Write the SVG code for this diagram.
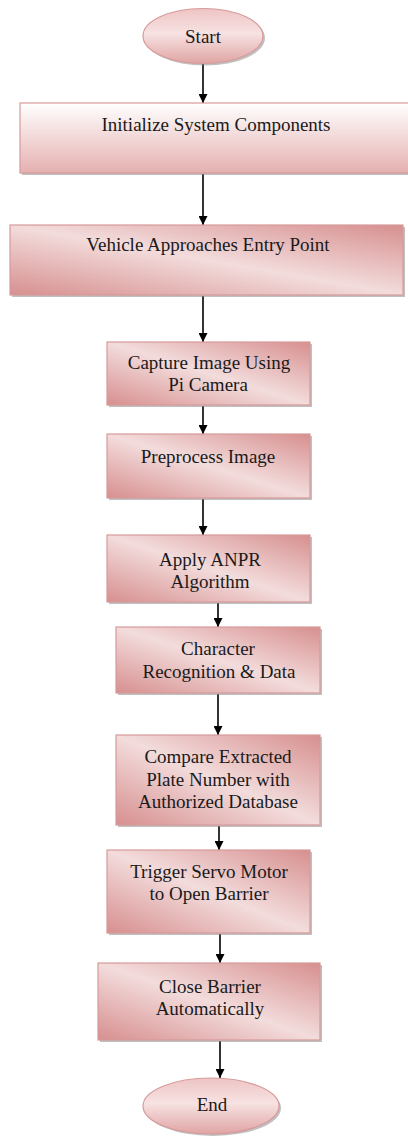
<svg xmlns="http://www.w3.org/2000/svg" width="408" height="1137" viewBox="0 0 408 1137">
<style>
.box{stroke:#d89a9a;stroke-width:1.2;fill:url(#gDiag)}
.sh{fill:#8c8c8c;opacity:0.55}
.lbl{font-family:"Liberation Serif","Times New Roman",serif;font-size:19px;fill:#1a1a1a;text-anchor:middle}
.cn{stroke:#000;stroke-width:1.6;fill:none;marker-end:url(#ah)}
</style>
<defs>
<linearGradient id="gDiag" x1="1" y1="0" x2="0" y2="1">
<stop offset="0" stop-color="#d78f8f"/>
<stop offset="0.5" stop-color="#f3dcdc"/>
<stop offset="1" stop-color="#d78f8f"/>
</linearGradient>
<linearGradient id="gVert" x1="0" y1="0" x2="0" y2="1">
<stop offset="0" stop-color="#ffffff"/>
<stop offset="1" stop-color="#e5b0b0"/>
</linearGradient>
<linearGradient id="gEll" x1="0" y1="0" x2="0" y2="1">
<stop offset="0" stop-color="#eec4c4"/>
<stop offset="0.45" stop-color="#f7e2e2"/>
<stop offset="1" stop-color="#e0a4a4"/>
</linearGradient>
<marker id="ah" viewBox="0 0 10 10" refX="10" refY="5" markerWidth="9" markerHeight="9" markerUnits="userSpaceOnUse" orient="auto">
<path d="M0,0 L10,5 L0,10 z" fill="#000"/>
</marker>
</defs>

<g id="connectors">
<line class="cn" x1="203" y1="64" x2="203" y2="103"/>
<line class="cn" x1="203" y1="174" x2="203" y2="225"/>
<line class="cn" x1="203" y1="296" x2="203" y2="342"/>
<line class="cn" x1="203" y1="406" x2="203" y2="434"/>
<line class="cn" x1="203" y1="499" x2="203" y2="535"/>
<line class="cn" x1="218" y1="603" x2="218" y2="627"/>
<line class="cn" x1="218" y1="694" x2="218" y2="735"/>
<line class="cn" x1="219" y1="826" x2="219" y2="850"/>
<line class="cn" x1="220" y1="934" x2="220" y2="963"/>
<line class="cn" x1="220" y1="1041" x2="220" y2="1078"/>
</g>

<g id="start">
<ellipse cx="205" cy="38" rx="60" ry="27.5" class="sh"/>
<ellipse cx="203" cy="36" rx="60" ry="27.5" fill="url(#gEll)" stroke="#d89a9a" stroke-width="1.2"/>
<text class="lbl" x="203" y="43">Start</text>
</g>

<g id="init">
<rect x="22" y="105" width="400" height="70" class="sh"/>
<rect x="20" y="103" width="400" height="70" fill="url(#gVert)" stroke="#d89a9a" stroke-width="1.2"/>
<text class="lbl" x="216" y="131">Initialize System Components</text>
</g>

<g id="vehicle">
<rect x="12" y="227" width="393" height="70" class="sh"/>
<rect x="10" y="225" width="393" height="70" class="box"/>
<text class="lbl" x="208" y="251">Vehicle Approaches Entry Point</text>
</g>

<g id="capture">
<rect x="109" y="344" width="203" height="63" class="sh"/>
<rect x="107" y="342" width="203" height="63" class="box"/>
<text class="lbl" x="209" y="369">Capture Image Using</text>
<text class="lbl" x="208" y="391">Pi Camera</text>
</g>

<g id="preprocess">
<rect x="109" y="436" width="203" height="64" class="sh"/>
<rect x="107" y="434" width="203" height="64" class="box"/>
<text class="lbl" x="208" y="463">Preprocess Image</text>
</g>

<g id="anpr">
<rect x="109" y="537" width="203" height="67" class="sh"/>
<rect x="107" y="535" width="203" height="67" class="box"/>
<text class="lbl" x="210" y="566">Apply ANPR</text>
<text class="lbl" x="210" y="588">Algorithm</text>
</g>

<g id="character">
<rect x="118" y="629" width="204" height="66" class="sh"/>
<rect x="116" y="627" width="204" height="66" class="box"/>
<text class="lbl" x="218" y="655">Character</text>
<text class="lbl" x="219" y="678">Recognition &amp; Data</text>
</g>

<g id="compare">
<rect x="118" y="737" width="204" height="90" class="sh"/>
<rect x="116" y="735" width="204" height="90" class="box"/>
<text class="lbl" x="218" y="763">Compare Extracted</text>
<text class="lbl" x="218" y="786">Plate Number with</text>
<text class="lbl" x="218" y="808">Authorized Database</text>
</g>

<g id="trigger">
<rect x="109" y="852" width="203" height="83" class="sh"/>
<rect x="107" y="850" width="203" height="83" class="box"/>
<text class="lbl" x="209" y="878">Trigger Servo Motor</text>
<text class="lbl" x="209" y="900">to Open Barrier</text>
</g>

<g id="close">
<rect x="100" y="965" width="222" height="77" class="sh"/>
<rect x="98" y="963" width="222" height="77" class="box"/>
<text class="lbl" x="210" y="993">Close Barrier</text>
<text class="lbl" x="210" y="1015">Automatically</text>
</g>

<g id="end">
<ellipse cx="213" cy="1108" rx="68" ry="28" class="sh"/>
<ellipse cx="211" cy="1106" rx="68" ry="28" fill="url(#gEll)" stroke="#d89a9a" stroke-width="1.2"/>
<text class="lbl" x="212" y="1111">End</text>
</g>
</svg>
